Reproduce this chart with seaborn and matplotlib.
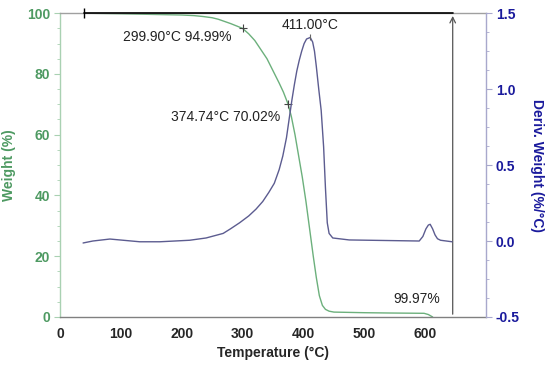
import numpy as np
import pandas as pd
import seaborn as sns
import matplotlib.pyplot as plt
from matplotlib.ticker import MultipleLocator, FuncFormatter

temp_w = [40, 100, 150, 200, 220, 235, 250, 260, 270, 280, 290, 299.9, 310, 320, 330,
          340, 350, 360, 367, 374.74, 380, 386, 392, 398, 404, 410, 416, 421, 426, 431,
          436, 442, 450, 500, 541, 598, 605, 612]
weight = [100, 99.8, 99.6, 99.4, 99.2, 98.9, 98.5, 98.0, 97.3, 96.6, 95.8, 94.99, 93.2,
          91.0, 88.0, 85.0, 81.0, 77.0, 74.0, 70.02, 66.0, 60.0, 53.0, 46.0, 38.0, 29.0,
          20.0, 13.0, 7.0, 3.8, 2.5, 1.9, 1.6, 1.4, 1.3, 1.2, 0.8, 0.0]

temp_d = [38, 54, 82, 131, 164, 213, 240, 268, 280, 295, 310, 322, 333, 343, 352, 360,
          366, 372, 377, 381, 385, 389, 393, 397, 401, 405, 411, 415, 418, 421, 425, 429,
          433, 436, 439, 442, 448, 475, 590, 596, 601, 605, 608, 612, 616, 620, 625, 644]
deriv = [-0.013, 0.0, 0.013, -0.005, -0.005, 0.005, 0.02, 0.05, 0.08, 0.12, 0.165, 0.21,
         0.26, 0.32, 0.38, 0.47, 0.56, 0.68, 0.82, 0.93, 1.03, 1.12, 1.19, 1.25, 1.30,
         1.33, 1.34, 1.31, 1.25, 1.15, 1.00, 0.86, 0.62, 0.35, 0.12, 0.05, 0.02, 0.007,
         0.0, 0.03, 0.08, 0.105, 0.11, 0.08, 0.04, 0.015, 0.005, -0.005]

peak_points = [(299.90, 94.99), (374.74, 70.02)]
peak_labels = ['299.90°C 94.99%', '374.74°C 70.02%']
dtg_peak = 411.00
residue_label = '99.97%'

green = '#4e9a62'
blue = '#1a1a9c'
wcol = '#6cb07c'
dcol = '#5c5c90'

sns.set_style('white')
plt.rcParams['font.family'] = ['Liberation Sans', 'DejaVu Sans']

fig = plt.figure(figsize=(5.5, 3.66), dpi=100)
ax1 = fig.add_axes([0.109, 0.134, 0.775, 0.83])
ax2 = ax1.twinx()

sns.lineplot(x=temp_w, y=weight, ax=ax1, color=wcol, lw=1.0, estimator=None)
sns.lineplot(x=temp_d, y=deriv, ax=ax2, color=dcol, lw=1.0, estimator=None)

ax1.set_xlim(0, 700)
ax1.set_ylim(0, 100)
ax2.set_ylim(-0.5, 1.5)

# step annotation: horizontal line at 100 % and arrow at the end
ax1.plot([40, 645], [100, 100], color='black', lw=1.2, clip_on=False, zorder=5)
ax1.plot([40], [100], marker='|', color='black', ms=7, clip_on=False, zorder=5)
ax1.annotate('', xy=(645, 100), xytext=(645, 0),
             arrowprops=dict(arrowstyle='->', color='#555555', lw=0.9))
ax1.text(625, 6, residue_label, ha='right', va='center', fontsize=10, color='#222222')

for (tx, wy), lab in zip(peak_points, peak_labels):
    ax1.plot(tx, wy, marker='+', color='#444444', ms=6, mew=0.8)
ax1.text(282, 92, peak_labels[0], ha='right', va='center', fontsize=10, color='#222222')
ax1.text(361, 65.8, peak_labels[1], ha='right', va='center', fontsize=10, color='#222222')
ax2.plot(dtg_peak, 1.34, marker='|', color='#666666', ms=5, mew=0.8)
ax2.text(dtg_peak, 1.42, f'{dtg_peak:.2f}°C', ha='center', va='center', fontsize=10,
         color='#222222')

# axes styling
for a in (ax1, ax2):
    for s in a.spines.values():
        s.set_linewidth(1.0)
ax1.spines['left'].set_color('#a9d1b2')
ax1.spines['top'].set_color('#a0a0a0')
ax1.spines['bottom'].set_color('#808080')
ax1.spines['right'].set_visible(False)
ax2.spines['right'].set_color('#a8a8cc')
ax2.spines['left'].set_visible(False)
ax2.spines['top'].set_visible(False)
ax2.spines['bottom'].set_visible(False)

ax1.set_xticks(range(0, 700, 100))
ax1.xaxis.set_minor_locator(MultipleLocator(25))
ax1.yaxis.set_major_locator(MultipleLocator(20))
ax1.yaxis.set_minor_locator(MultipleLocator(5))
ax2.yaxis.set_major_locator(MultipleLocator(0.5))
ax2.yaxis.set_minor_locator(MultipleLocator(0.125))
ax2.yaxis.set_major_formatter(FuncFormatter(lambda v, p: f'{v:.1f}'))

ax1.tick_params(axis='x', which='major', length=4, color='#808080', labelsize=10, pad=3)
ax1.tick_params(axis='x', which='minor', length=2, color='#808080')
ax1.tick_params(axis='y', which='major', length=4, color='#a9d1b2', labelsize=10,
                labelcolor=green, pad=3)
ax1.tick_params(axis='y', which='minor', length=2, color='#a9d1b2')
ax2.tick_params(axis='y', which='major', length=4, color='#a8a8cc', labelsize=10,
                labelcolor=blue, pad=3)
ax2.tick_params(axis='y', which='minor', length=2, color='#a8a8cc')
for lab in ax1.get_xticklabels() + ax1.get_yticklabels() + ax2.get_yticklabels():
    lab.set_fontweight('bold')

ax1.set_xlabel('Temperature (°C)', fontsize=10, fontweight='bold', labelpad=4)
ax1.set_ylabel('Weight (%)', fontsize=10, fontweight='bold', color=green, labelpad=8)
ax2.set_ylabel('Deriv. Weight (%/°C)', fontsize=10, fontweight='bold', color=blue,
               rotation=270, labelpad=17)

fig.savefig('out.png', dpi=100)
